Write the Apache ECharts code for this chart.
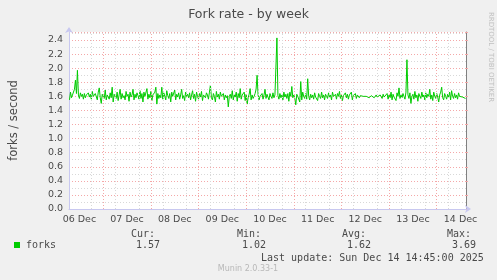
<!DOCTYPE html>
<html>
<head>
<meta charset="utf-8">
<script src="https://cdn.jsdelivr.net/npm/echarts@6/dist/echarts.min.js"></script>
<style>
html,body{margin:0;padding:0;background:#f0f0f0;}
#c{width:497px;height:280px;}
</style>
</head>
<body>
<div id="c"></div>
<script>
// ---- data (30-minute samples, hours since 06 Dec 00:00) ----
const startHour = 7;
const stepHours = 0.5;
const forks = [
  1.55,1.66,1.58,1.62,1.60,1.70,1.83,1.64,1.97,1.62,1.57,1.65,1.60,1.63,1.56,1.64,1.58,1.62,1.60,1.65,
  1.59,1.63,1.56,1.67,1.60,1.58,1.64,1.62,1.55,1.66,1.72,1.58,1.50,1.63,1.64,1.57,1.69,1.55,1.62,1.60,
  1.56,1.65,1.58,1.73,1.52,1.63,1.60,1.57,1.66,1.54,1.62,1.70,1.56,1.64,1.58,1.61,1.55,1.67,1.60,1.63,
  1.53,1.66,1.59,1.62,1.70,1.55,1.63,1.58,1.65,1.61,1.56,1.68,1.57,1.64,1.52,1.66,1.60,1.58,1.71,1.56,
  1.63,1.58,1.67,1.54,1.62,1.60,1.66,1.73,1.49,1.64,1.57,1.62,1.58,1.73,1.56,1.65,1.60,1.55,1.68,1.61,
  1.57,1.64,1.52,1.66,1.60,1.58,1.69,1.55,1.63,1.59,1.65,1.56,1.62,1.70,1.57,1.61,1.54,1.66,1.60,1.63,
  1.58,1.65,1.55,1.62,1.68,1.57,1.63,1.53,1.66,1.60,1.56,1.64,1.59,1.67,1.54,1.62,1.60,1.58,1.65,1.62,
  1.56,1.66,1.76,1.58,1.55,1.64,1.60,1.52,1.67,1.59,1.63,1.56,1.66,1.60,1.58,1.64,1.55,1.62,1.58,1.61,
  1.45,1.60,1.63,1.57,1.68,1.55,1.62,1.59,1.66,1.53,1.64,1.58,1.71,1.56,1.62,1.60,1.66,1.54,1.63,1.49,
  1.58,1.63,1.71,1.55,1.62,1.57,1.60,1.64,1.70,1.90,1.62,1.55,1.60,1.58,1.64,1.56,1.62,1.70,1.57,1.63,
  1.59,1.55,1.64,1.60,1.57,1.65,1.58,1.62,1.60,2.43,1.61,1.56,1.64,1.58,1.62,1.55,1.66,1.59,1.63,1.57,
  1.64,1.53,1.66,1.60,1.74,1.58,1.62,1.57,1.48,1.63,1.60,1.58,1.52,1.81,1.55,1.66,1.60,1.57,1.64,1.56,
  1.85,1.60,1.55,1.63,1.58,1.62,1.56,1.65,1.59,1.61,1.54,1.64,1.60,1.57,1.66,1.58,1.62,1.55,1.63,1.60,
  1.57,1.65,1.59,1.62,1.55,1.66,1.60,1.58,1.63,1.56,1.64,1.60,1.67,1.57,1.62,1.54,1.61,1.59,1.65,1.58,
  1.63,1.56,1.62,1.60,1.66,1.55,1.61,1.59,1.64,1.57,1.62,1.60,1.58,1.61,1.59,1.62,1.60,1.58,1.61,1.60,
  1.59,1.62,1.58,1.60,1.61,1.59,1.63,1.58,1.60,1.62,1.59,1.61,1.58,1.62,1.60,1.57,1.63,1.59,1.61,1.58,
  1.64,1.56,1.62,1.58,1.66,1.55,1.63,1.59,1.61,1.54,1.65,1.60,1.72,1.57,1.62,1.58,1.64,1.60,1.56,1.66,
  2.12,1.62,1.57,1.65,1.50,1.60,1.63,1.56,1.67,1.58,1.62,1.53,1.64,1.60,1.57,1.66,1.59,1.62,1.55,1.65,
  1.58,1.63,1.60,1.70,1.56,1.62,1.54,1.66,1.60,1.57,1.64,1.59,1.52,1.62,1.66,1.73,1.58,1.55,1.64,1.60,
  1.56,1.63,1.59,1.66,1.55,1.68,1.60,1.57,1.64,1.58,1.62,1.56,1.65,1.60,1.58,1.62,1.59,1.61,1.57,1.57
];
const dayLabels = ['06 Dec','07 Dec','08 Dec','09 Dec','10 Dec','11 Dec','12 Dec','13 Dec','14 Dec'];
const dayNoonHours = [12,36,60,84,108,132,156,180,204];
const midnightHours = [24,48,72,96,120,144,168,192];
const sixHourLines = [18,30,42,54,66,78,90,102,114,126,138,150,162,174,186,198];
const yTicks = [0,0.2,0.4,0.6,0.8,1.0,1.2,1.4,1.6,1.8,2.0,2.2,2.4];
const xMin = 6.75, xMax = 206.75;
const yMax = 2.514;
const legendName = 'forks';
const stats = {cur:'1.57', min:'1.02', avg:'1.62', max:'3.69'};
const lastUpdate = 'Last update: Sun Dec 14 14:45:00 2025';

const seriesData = forks.map((v,i)=>[startHour + i*stepHours, v]);

const chart = echarts.init(document.getElementById('c'), null, {renderer:'canvas'});
const mono = '"DejaVu Sans Mono", monospace';
const sans = '"DejaVu Sans", sans-serif';
const txtColor = '#4a4a4a';

chart.setOption({
  animation:false,
  backgroundColor:'#f0f0f0',
  grid:{left:66, right:31, top:32, bottom:71, show:true, backgroundColor:'#ffffff', borderWidth:0},
  xAxis:{
    type:'value', min:xMin, max:xMax,
    axisLine:{show:true, lineStyle:{color:'#c8c8f0', width:1}, symbol:['none','arrow'], symbolSize:[6,6], symbolOffset:[0,5]},
    axisTick:{show:false},
    splitLine:{show:false},
    axisLabel:{show:true, customValues:dayNoonHours, fontFamily:sans, fontSize:9.5, color:txtColor, margin:6,
      formatter:function(v){const k=dayNoonHours.indexOf(Math.round(v)); return k>=0?dayLabels[k]:'';}}
  },
  yAxis:[{
    type:'value', min:0, max:yMax, interval:0.2,
    name:'forks / second', nameLocation:'middle', nameGap:49, nameRotate:90,
    nameTextStyle:{fontFamily:sans, fontSize:11.5, color:txtColor},
    axisLine:{show:true, lineStyle:{color:'#c8c8f0', width:1}, symbol:['none','arrow'], symbolSize:[6,6], symbolOffset:[0,5]},
    axisTick:{show:false},
    axisLabel:{fontFamily:sans, fontSize:9.5, color:txtColor, margin:6,
      formatter:function(v){return yTicks.some(t=>Math.abs(t-v)<1e-6)?v.toFixed(1):'';}},
    splitLine:{show:true, lineStyle:{color:'#f4a8a8', type:[1,2], width:1}},
    minorTick:{show:true, splitNumber:2, length:0},
    minorSplitLine:{show:true, lineStyle:{color:'#d8d8d8', type:[1,2], width:1}}
  },{
    type:'value', min:0, max:yMax, interval:0.2, position:'right',
    axisLine:{show:true, lineStyle:{color:'#808080', width:1}},
    axisTick:{show:true, inside:false, length:2, lineStyle:{color:'#f4a8a8'}},
    axisLabel:{show:false}, splitLine:{show:false}
  }],
  series:[{
    type:'line', data:seriesData, z:1, silent:true, showSymbol:false,
    lineStyle:{opacity:0, width:0},
    markLine:{silent:true, symbol:['none','none'], label:{show:false}, animation:false,
      data: sixHourLines.map(h=>({xAxis:h, lineStyle:{color:'#d8d8d8', type:[1,2], width:1}}))
        .concat(midnightHours.map(h=>({xAxis:h, lineStyle:{color:'#f4a8a8', type:[1,2], width:1}})))
    }
  },{
    name:legendName, type:'line', data:seriesData, z:3, showSymbol:false, silent:true,
    lineStyle:{color:'#00cc00', width:1}, itemStyle:{color:'#00cc00'}
  }],
  graphic:[
    {type:'text', left:'center', top:8, style:{text:'Fork rate - by week', font:'12.5px '+sans, fill:txtColor}},
    {type:'text', x:491, y:57, rotation:-Math.PI/2, style:{text:'RRDTOOL / TOBI OETIKER', font:'7px '+sans, fill:'#c0c0c0', align:'center', verticalAlign:'middle'}},
    {type:'rect', shape:{x:14, y:242, width:6, height:6}, style:{fill:'#00cc00'}},
    {type:'text', x:26, y:245.5, style:{text:legendName, font:'10px '+mono, fill:txtColor, verticalAlign:'middle'}},
    {type:'text', x:131, y:234, style:{text:'Cur:', font:'10px '+mono, fill:txtColor, verticalAlign:'middle'}},
    {type:'text', x:237, y:234, style:{text:'Min:', font:'10px '+mono, fill:txtColor, verticalAlign:'middle'}},
    {type:'text', x:342, y:234, style:{text:'Avg:', font:'10px '+mono, fill:txtColor, verticalAlign:'middle'}},
    {type:'text', x:447, y:234, style:{text:'Max:', font:'10px '+mono, fill:txtColor, verticalAlign:'middle'}},
    {type:'text', x:136, y:245.5, style:{text:stats.cur, font:'10px '+mono, fill:txtColor, verticalAlign:'middle'}},
    {type:'text', x:242, y:245.5, style:{text:stats.min, font:'10px '+mono, fill:txtColor, verticalAlign:'middle'}},
    {type:'text', x:347, y:245.5, style:{text:stats.avg, font:'10px '+mono, fill:txtColor, verticalAlign:'middle'}},
    {type:'text', x:452, y:245.5, style:{text:stats.max, font:'10px '+mono, fill:txtColor, verticalAlign:'middle'}},
    {type:'text', x:261, y:258, style:{text:lastUpdate, font:'10px '+mono, fill:txtColor, verticalAlign:'middle'}},
    {type:'text', x:248, y:269, style:{text:'Munin 2.0.33-1', font:'8px '+sans, fill:'#b8b8b8', align:'center', verticalAlign:'middle'}}
  ]
});
</script>
</body>
</html>
